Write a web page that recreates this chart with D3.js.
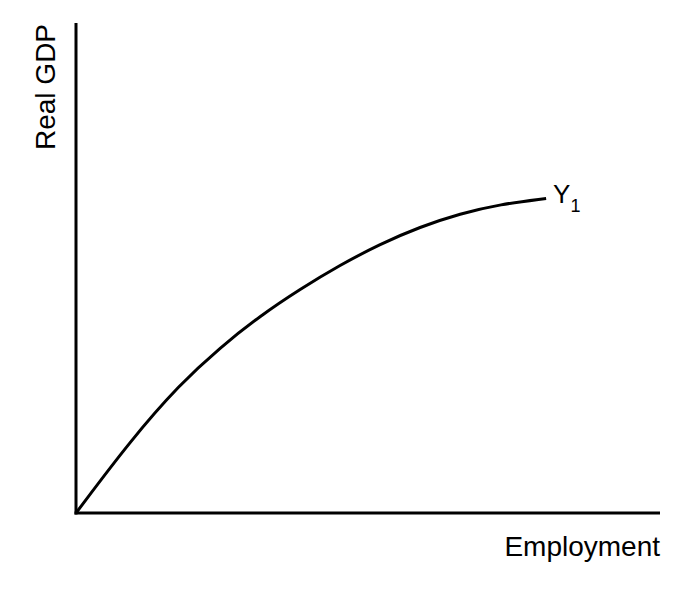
<!DOCTYPE html>
<html>
<head>
<meta charset="utf-8">
<script src="https://cdn.jsdelivr.net/npm/d3@7"></script>
<style>
  html, body { margin: 0; padding: 0; background: #fff; }
  svg { display: block; }
  text { font-family: "Liberation Sans", Arial, Helvetica, sans-serif; fill: #000; }
</style>
</head>
<body>
<svg id="chart" width="693" height="600"></svg>
<script>
// Data
const employment = [0, 0.94, 1.78, 2.47, 3.15, 3.84, 4.52, 5.21, 5.89, 6.58, 7.26, 8.05];
const realGDP    = [0, 1.49, 2.63, 3.38, 4.02, 4.57, 5.06, 5.49, 5.84, 6.11, 6.30, 6.42];
const seriesLabel = "Y";
const seriesSub = "1";
const xTitle = "Employment";
const yTitle = "Real GDP";

const svg = d3.select("#chart");
const x = d3.scaleLinear().domain([0, 10]).range([76, 660]);
const y = d3.scaleLinear().domain([0, 10]).range([513, 23]);

// Axes
svg.append("line")
  .attr("x1", x(0)).attr("y1", y(0) + 1.5).attr("x2", x(0)).attr("y2", y(10))
  .attr("stroke", "#000").attr("stroke-width", 3);
svg.append("line")
  .attr("x1", x(0) - 1.5).attr("y1", y(0)).attr("x2", x(10)).attr("y2", y(0))
  .attr("stroke", "#000").attr("stroke-width", 3);

// Curve
const pts = employment.map((e, i) => [e, realGDP[i]]);
const line = d3.line().x(d => x(d[0])).y(d => y(d[1])).curve(d3.curveBasis);
svg.append("path").datum(pts)
  .attr("d", line)
  .attr("fill", "none").attr("stroke", "#000").attr("stroke-width", 3);

// Curve label
const last = pts[pts.length - 1];
const lbl = svg.append("text")
  .attr("x", x(last[0]) + 7).attr("y", y(last[1]) + 5)
  .attr("font-size", 26);
lbl.append("tspan").text(seriesLabel);
lbl.append("tspan").attr("font-size", 18).attr("dy", 9).text(seriesSub);

// Axis titles
svg.append("text")
  .attr("x", 660).attr("y", 556)
  .attr("text-anchor", "end")
  .attr("font-size", 28)
  .text(xTitle);

svg.append("text")
  .attr("transform", "translate(55,150) rotate(-90)")
  .attr("text-anchor", "start")
  .attr("font-size", 28)
  .text(yTitle);
</script>
</body>
</html>
